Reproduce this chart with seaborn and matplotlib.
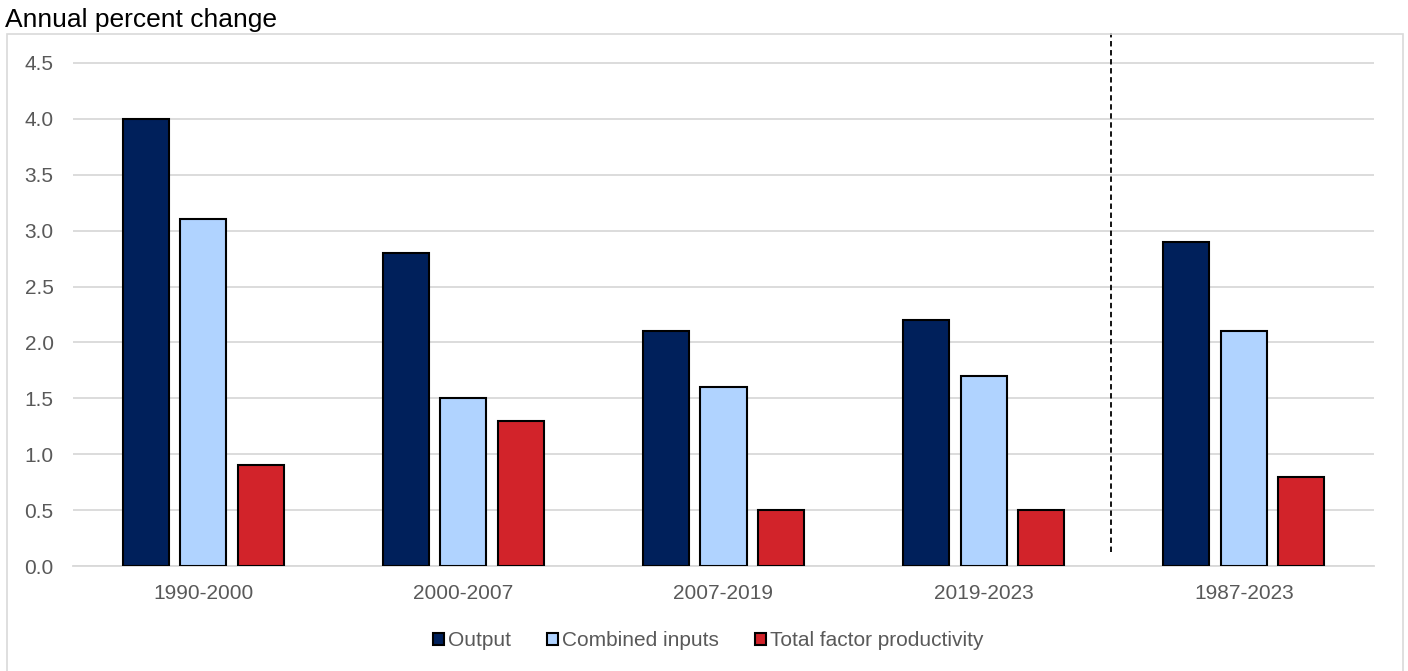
import matplotlib
matplotlib.use("Agg")
import matplotlib.pyplot as plt
import seaborn as sns
import pandas as pd
from matplotlib.patches import Rectangle

periods = ["1990-2000", "2000-2007", "2007-2019", "2019-2023", "1987-2023"]
series_names = ["Output", "Combined inputs", "Total factor productivity"]
output_vals = [4.0, 2.8, 2.1, 2.2, 2.9]
inputs_vals = [3.1, 1.5, 1.6, 1.7, 2.1]
tfp_vals = [0.9, 1.3, 0.5, 0.5, 0.8]
yticks = [0.0, 0.5, 1.0, 1.5, 2.0, 2.5, 3.0, 3.5, 4.0, 4.5]
colors = ["#00205B", "#B0D3FF", "#D2232A"]

rows = []
for s, vals in zip(series_names, [output_vals, inputs_vals, tfp_vals]):
    for p, v in zip(periods, vals):
        rows.append({"Period": p, "Series": s, "Value": v})
df = pd.DataFrame(rows)

sns.set_theme(style="white")
plt.rcParams["font.family"] = ["Liberation Sans", "DejaVu Sans"]

W, H = 1408, 671
fig = plt.figure(figsize=(W / 100, H / 100), dpi=100)
ax_left, ax_right = 73 / W, 1374 / W
y0_px = 566
px_per_unit = 111.8
ytop = 4.75
ax_top_px = y0_px - ytop * px_per_unit
ax = fig.add_axes([ax_left, (H - y0_px) / H, ax_right - ax_left, (y0_px - ax_top_px) / H])

# outer light border
fig.patches.append(Rectangle((7 / W, -0.01), (1403 - 7) / W, (H - 34) / H + 0.01,
                             transform=fig.transFigure, fill=False,
                             edgecolor="#D9D9D9", linewidth=1.2, zorder=0))

sns.barplot(data=df, x="Period", y="Value", hue="Series", order=periods,
            hue_order=series_names, palette=colors, saturation=1,
            width=0.663, gap=0.2,
            edgecolor="black", linewidth=1.5, ax=ax, legend=True, zorder=3)

ax.set_xlim(-0.5, len(periods) - 0.5)
ax.set_ylim(0, ytop)
ax.set_yticks(yticks)
ax.set_yticklabels([f"{t:.1f}" for t in yticks])
ax.yaxis.grid(True, color="#D9D9D9", linewidth=1.3, zorder=0)
ax.set_axisbelow(True)
for s in ["top", "right", "left"]:
    ax.spines[s].set_visible(False)
ax.spines["bottom"].set_color("#D9D9D9")
ax.spines["bottom"].set_linewidth(1.3)
ax.tick_params(axis="both", length=0, labelsize=15, labelcolor="#595959")
ax.tick_params(axis="y", pad=14)
ax.tick_params(axis="x", pad=13)
ax.set_xlabel("")
ax.set_ylabel("")

# dashed separator
ax.plot([3.49, 3.49], [0.125, 4.77], linestyle=(0, (3, 2)), color="black",
        linewidth=1.3, clip_on=False, zorder=4)

handles, labels = ax.get_legend_handles_labels()
ax.get_legend().remove()
fig.legend(handles, labels, loc="center", bbox_to_anchor=(708 / W, (H - 641) / H),
           ncol=3, frameon=False, fontsize=15, labelcolor="#595959",
           handlelength=0.55, handleheight=0.55, handletextpad=0.15, columnspacing=1.75)

fig.text(5 / W, (H - 20) / H, "Annual percent change", fontsize=19,
         color="black", va="center", ha="left")

fig.savefig("out.png", dpi=100)
